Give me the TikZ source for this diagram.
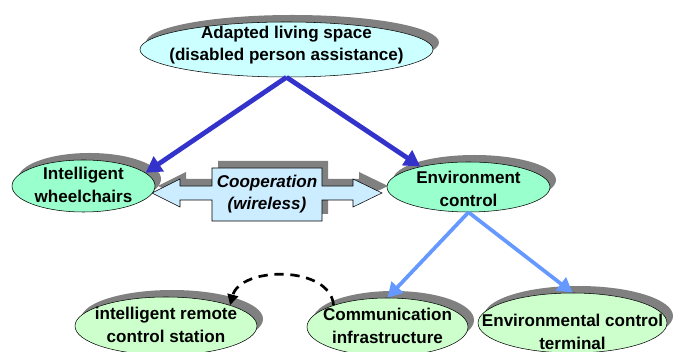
\documentclass[tikz,border=0pt]{standalone}
\usepackage{fontspec}
\setmainfont{Liberation Sans}
\usetikzlibrary{shapes.geometric,shadows,arrows.meta}
\definecolor{skyfill}{HTML}{CCFFFF}
\definecolor{mintfill}{HTML}{99FFCC}
\definecolor{palefill}{HTML}{CCFFCC}
\definecolor{coopfill}{HTML}{CCECFF}
\definecolor{darkarrow}{HTML}{3333CC}
\definecolor{lightarrow}{HTML}{6699FF}
\tikzset{
    dropgray/.style={drop shadow={shadow xshift=4.5pt, shadow yshift=5.25pt, fill=black!50, opacity=1}},
    bub/.style={ellipse, draw, inner sep=0pt, dropgray},
    lbl/.style={align=center, font=\fontsize{12.8}{16.9}\selectfont\bfseries},
    mainarrow/.style={draw=darkarrow, line width=3.6pt, -{Triangle[length=12pt,width=13pt]}},
    subarrow/.style={draw=lightarrow, line width=2.8pt, -{Triangle[length=11pt,width=12pt]}},
    dashline/.style={line width=2pt, dash pattern=on 7pt off 5pt, -{Triangle[length=8pt,width=8pt]}}
}
\newcommand{\bubble}[8]{
    \node[bub, fill=#6, minimum width=0.75pt*#4, minimum height=0.75pt*#5] (#1) at (#2, #3) {};
    \node[lbl] (#1-t) at (#2, #7) {#8};
}

\begin{document}
\begin{tikzpicture}[x=0.75pt, y=-0.75pt]
    \useasboundingbox (0,0) rectangle (676,352);

    \filldraw[fill=coopfill, dropgray] (152,193) -- (180,179) -- (180,186) -- (212,186)
        -- (212,168) -- (322,168) -- (322,186) -- (353,186) -- (353,179) -- (382,193)
        -- (353,207) -- (353,200) -- (322,200) -- (322,221) -- (212,221) -- (212,200)
        -- (180,200) -- (180,207) -- cycle;
    \node[lbl, font=\fontsize{12.8}{16.9}\selectfont\bfseries\itshape] (coop) at (267,194) {Cooperation\\(wireless)};

    \bubble{top}{286.5}{49.5}{293}{55}{skyfill}{45}{Adapted living space\\(disabled person assistance)}
    \bubble{wheel}{83.5}{186}{143}{52}{mintfill}{185}{Intelligent\\wheelchairs}
    \bubble{env}{468.5}{187}{163}{50}{mintfill}{189}{Environment\\control}
    \bubble{remote}{166}{326}{182}{58}{palefill}{325}{intelligent remote\\control station}
    \bubble{comm}{387.5}{327}{161}{58}{palefill}{326}{Communication\\infrastructure}
    \bubble{term}{572.5}{323}{189}{60}{palefill}{332}{Environmental control\\terminal}

    \foreach \t in {wheel.12, env.157} {
        \draw[mainarrow] (top.south) -- (\t);
    }
    \foreach \t in {comm.north, term.north} {
        \draw[subarrow] (env.south) -- (\t);
    }
    \draw[dashline] (comm.158) to[out=95, in=75] (remote.18);
\end{tikzpicture}
\end{document}
